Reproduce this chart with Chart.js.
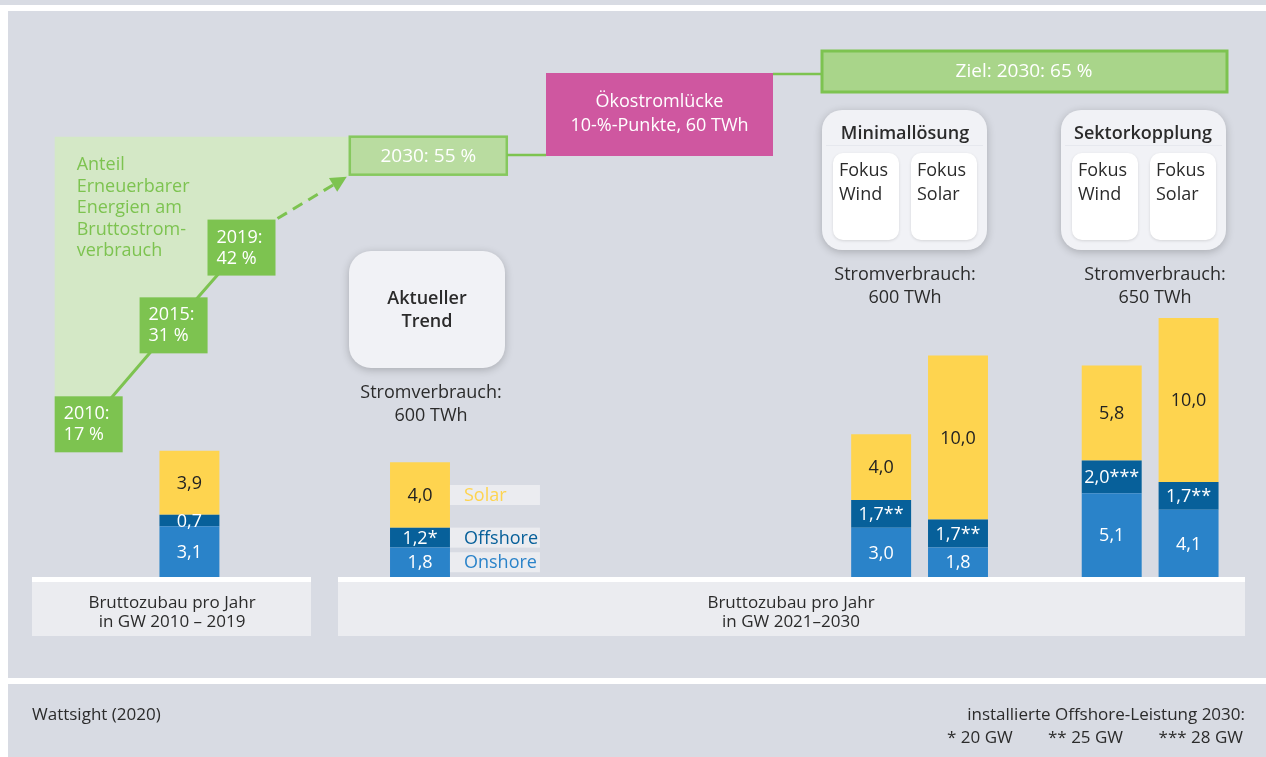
<!DOCTYPE html>
<html lang="de">
<head>
<meta charset="utf-8">
<title>Bruttozubau pro Jahr</title>
<script src="https://cdn.jsdelivr.net/npm/chart.js@4.4.1/dist/chart.umd.min.js"></script>
<style>
  html, body { margin: 0; padding: 0; background: #d8dbe3; }
  #wrap { width: 1266px; height: 757px; position: relative; }
</style>
</head>
<body>
<div id="wrap"><canvas id="chart"></canvas></div>
<script>
// bars: gross additions per year in GW (empty slots are spacing between groups)
const categories = ["2010–2019", "", "", "Aktueller Trend", "", "", "", "", "",
  "Minimallösung Wind", "Minimallösung Solar", "", "Sektorkopplung Wind", "Sektorkopplung Solar"];
const onshore  = [3.1, null, null, 1.8, null, null, null, null, null, 3.0, 1.8, null, 5.1, 4.1];
const offshore = [0.7, null, null, 1.2, null, null, null, null, null, 1.7, 1.7, null, 2.0, 1.7];
const solar    = [3.9, null, null, 4.0, null, null, null, null, null, 4.0, 10.0, null, 5.8, 10.0];
const offshoreMarks = ["", "", "", "*", "", "", "", "", "", "**", "**", "", "***", "**"];
const seriesNames = ["Onshore", "Offshore", "Solar"];

// share of renewables in gross electricity consumption (%)
const shareYears = [2010, 2015, 2019, 2030];
const shareValues = [17, 31, 42, 55];
const targetShare = 65;
const gapText = ["Ökostromlücke", "10-%-Punkte, 60 TWh"];

const scenarioNames = ["Aktueller Trend", "Minimallösung", "Sektorkopplung"];
const consumptionTWh = [600, 600, 650];
const offshoreNotes = ["* 20 GW", "** 25 GW", "*** 28 GW"];

const FONT = '"Open Sans", "Noto Sans", sans-serif';
const BG = "#d8dbe3";
const GREEN = "#7dc350";
const LIGHTGREEN = "#d4e8c6";
const ONSHORE = "#2a83c9";
const OFFSHORE = "#07609a";
const SOLAR = "#fed44f";
const TEXT = "#2b2b2b";

const fmt = v => v.toFixed(1).replace(".", ",");

function rr(ctx, x, y, w, h, r) {
  ctx.beginPath();
  ctx.moveTo(x + r, y);
  ctx.arcTo(x + w, y, x + w, y + h, r);
  ctx.arcTo(x + w, y + h, x, y + h, r);
  ctx.arcTo(x, y + h, x, y, r);
  ctx.arcTo(x, y, x + w, y, r);
  ctx.closePath();
}

function txt(ctx, s, x, y, opt) {
  opt = opt || {};
  ctx.font = (opt.weight || "400") + " " + (opt.size || 18) + "px " + FONT;
  ctx.fillStyle = opt.color || TEXT;
  ctx.textAlign = opt.align || "center";
  ctx.textBaseline = "middle";
  ctx.fillText(s, x, y);
}

function card(ctx, x, y, w, h, r) {
  ctx.save();
  ctx.shadowColor = "rgba(0,0,0,0.22)";
  ctx.shadowBlur = 8;
  ctx.shadowOffsetY = 2;
  rr(ctx, x, y, w, h, r);
  ctx.fillStyle = "#f1f2f6";
  ctx.fill();
  ctx.restore();
}

function innerCard(ctx, x, y, w, h, lines) {
  ctx.save();
  ctx.shadowColor = "rgba(0,0,0,0.12)";
  ctx.shadowBlur = 3;
  ctx.shadowOffsetY = 1;
  rr(ctx, x, y, w, h, 10);
  ctx.fillStyle = "#ffffff";
  ctx.fill();
  ctx.restore();
  lines.forEach((l, i) => txt(ctx, l, x + 6, y + 18 + i * 24, { align: "left" }));
}

// share boxes sit on the share line points
function shareBoxes(chart) {
  const xs = chart.scales.xs, ys = chart.scales.ys;
  return shareYears.map((yr, i) => {
    const cx = xs.getPixelForValue(yr), cy = ys.getPixelForValue(shareValues[i]);
    const last = i === shareYears.length - 1;
    const w = last ? 157 : 68, h = last ? 38 : 56;
    return { cx, cy, x: cx - w / 2, y: cy - h / 2, w, h };
  });
}

const infographic = {
  id: "infographic",
  beforeDatasetsDraw(chart) {
    const ctx = chart.ctx;
    ctx.save();
    ctx.fillStyle = BG;
    ctx.fillRect(0, 0, 1266, 757);
    ctx.fillStyle = "#ffffff";
    ctx.fillRect(0, 5, 1266, 6);
    ctx.fillRect(0, 5, 8, 752);
    ctx.fillRect(0, 678, 1266, 6);

    // category boxes under the bars
    [[32, 279], [338, 907]].forEach(([x, w]) => {
      ctx.fillStyle = "#ffffff";
      ctx.fillRect(x, 577, w, 5);
      ctx.fillStyle = "#ebecf0";
      ctx.fillRect(x, 582, w, 54);
    });
    txt(ctx, "Bruttozubau pro Jahr", 172, 603, { size: 17 });
    txt(ctx, "in GW 2010 – 2019", 172, 622, { size: 17 });
    txt(ctx, "Bruttozubau pro Jahr", 791, 603, { size: 17 });
    txt(ctx, "in GW 2021–2030", 791, 622, { size: 17 });

    // light green area above the share line
    const b = shareBoxes(chart);
    const b0 = b[0], b2 = b[2], b3 = b[3];
    ctx.beginPath();
    ctx.moveTo(b0.x, b3.y);
    ctx.lineTo(b3.x, b3.y);
    ctx.lineTo(b3.x, b3.y + b3.h);
    ctx.lineTo(b2.x + b2.w, b2.y);
    ctx.lineTo(b2.cx, b2.cy);
    ctx.lineTo(b[1].cx, b[1].cy);
    ctx.lineTo(b0.cx, b0.cy);
    ctx.lineTo(b0.x, b0.cy);
    ctx.closePath();
    ctx.fillStyle = LIGHTGREEN;
    ctx.fill();
    ["Anteil", "Erneuerbarer", "Energien am", "Bruttostrom-", "verbrauch"].forEach((l, i) =>
      txt(ctx, l, b0.x + 22, 165 + i * 21.5, { align: "left", color: GREEN }));
    ctx.restore();
  },
  afterDatasetsDraw(chart) {
    const ctx = chart.ctx;
    ctx.save();
    const b = shareBoxes(chart);

    // dashed arrow towards the 2030 target
    const s = b[2], t = b[3];
    const x1 = s.x + s.w + 2, y1 = s.y - 1, x2 = t.x - 3, y2 = t.y + t.h + 2;
    const ang = Math.atan2(y2 - y1, x2 - x1), len = Math.hypot(x2 - x1, y2 - y1);
    ctx.strokeStyle = GREEN;
    ctx.lineWidth = 3;
    ctx.setLineDash([11, 7]);
    ctx.beginPath();
    ctx.moveTo(x1, y1);
    ctx.lineTo(x1 + Math.cos(ang) * (len - 12), y1 + Math.sin(ang) * (len - 12));
    ctx.stroke();
    ctx.setLineDash([]);
    ctx.beginPath();
    ctx.moveTo(x2, y2);
    ctx.lineTo(x2 - 16 * Math.cos(ang) + 8 * Math.sin(ang), y2 - 16 * Math.sin(ang) - 8 * Math.cos(ang));
    ctx.lineTo(x2 - 16 * Math.cos(ang) - 8 * Math.sin(ang), y2 - 16 * Math.sin(ang) + 8 * Math.cos(ang));
    ctx.closePath();
    ctx.fillStyle = GREEN;
    ctx.fill();

    b.slice(0, 3).forEach((bx, i) => {
      ctx.fillStyle = GREEN;
      ctx.fillRect(bx.x, bx.y, bx.w, bx.h);
      txt(ctx, shareYears[i] + ":", bx.x + 9, bx.cy - 10, { color: "#fff", align: "left" });
      txt(ctx, shareValues[i] + " %", bx.x + 9, bx.cy + 11, { color: "#fff", align: "left" });
    });

    // 2030 box, connectors, gap and target
    ctx.fillStyle = "#b9dca0";
    ctx.fillRect(t.x, t.y, t.w, t.h);
    ctx.strokeStyle = "#86c85e";
    ctx.lineWidth = 2.5;
    ctx.strokeRect(t.x, t.y, t.w, t.h);
    txt(ctx, shareYears[3] + ": " + shareValues[3] + " %", t.cx, t.cy + 1, { color: "#fff", size: 19 });

    ctx.strokeStyle = GREEN;
    ctx.lineWidth = 2.5;
    ctx.beginPath();
    ctx.moveTo(t.x + t.w, 155); ctx.lineTo(546, 155);
    ctx.moveTo(773, 74); ctx.lineTo(823, 74);
    ctx.stroke();

    ctx.fillStyle = "#cf57a0";
    ctx.fillRect(546, 73, 227, 83);
    txt(ctx, gapText[0], 659.5, 102, { color: "#fff", size: 18 });
    txt(ctx, gapText[1], 659.5, 126, { color: "#fff", size: 18 });

    ctx.fillStyle = "#a9d58a";
    ctx.fillRect(822, 51, 405, 41);
    ctx.strokeStyle = GREEN;
    ctx.lineWidth = 3;
    ctx.strokeRect(822, 51, 405, 41);
    txt(ctx, "Ziel: " + shareYears[3] + ": " + targetShare + " %", 1024, 72, { color: "#fff", size: 19 });

    // scenario cards
    card(ctx, 349, 251, 156, 117, 22);
    const trend = scenarioNames[0].split(" ");
    txt(ctx, trend[0], 427, 299, { weight: "600", size: 18 });
    txt(ctx, trend[1], 427, 322, { weight: "600", size: 18 });
    [[822, scenarioNames[1], 905], [1061, scenarioNames[2], 1143]].forEach(([x, name, cx]) => {
      card(ctx, x, 110, 165, 140, 20);
      ctx.fillStyle = "#e6e8ee";
      ctx.fillRect(x + 4, 145, 157, 1);
      txt(ctx, name, cx, 134, { weight: "600", size: 18 });
      innerCard(ctx, x + 11, 153, 66, 87, ["Fokus", "Wind"]);
      innerCard(ctx, x + 89, 153, 66, 87, ["Fokus", "Solar"]);
    });
    [[431, 393], [905, 275], [1155, 275]].forEach(([cx, cy], i) => {
      txt(ctx, "Stromverbrauch:", cx, cy);
      txt(ctx, consumptionTWh[i] + " TWh", cx, cy + 23);
    });

    // values inside the bars
    [onshore, offshore, solar].forEach((series, di) => {
      const meta = chart.getDatasetMeta(di);
      series.forEach((v, j) => {
        if (v === null) return;
        const el = meta.data[j];
        const label = fmt(v) + (di === 1 ? offshoreMarks[j] : "");
        txt(ctx, label, el.x, (el.y + el.base) / 2 + 1, { color: di === 2 ? "#222" : "#fff" });
      });
    });

    // legend labels beside the current trend bar
    const legendColors = [ONSHORE, OFFSHORE, SOLAR];
    [0, 1, 2].forEach(di => {
      const el = chart.getDatasetMeta(di).data[3];
      const cy = (el.y + el.base) / 2;
      const lx = el.x + el.width / 2;
      ctx.fillStyle = "#ebecf0";
      ctx.fillRect(lx, cy - 10, 90, 20);
      txt(ctx, seriesNames[di], lx + 14, cy + 1, { align: "left", color: legendColors[di] });
    });

    // footer
    txt(ctx, "Wattsight (2020)", 32, 715, { align: "left", size: 17 });
    txt(ctx, "installierte Offshore-Leistung 2030:", 1245, 715, { align: "right", size: 17 });
    txt(ctx, offshoreNotes[0], 947, 738, { align: "left", size: 17 });
    txt(ctx, offshoreNotes[1], 1048, 738, { align: "left", size: 17 });
    txt(ctx, offshoreNotes[2], 1243, 738, { align: "right", size: 17 });
    ctx.restore();
  }
};

// grouped: false keeps each stacked bar centred on its category
const barStyle = { grouped: false, barPercentage: 0.78, categoryPercentage: 1, borderWidth: 0, xAxisID: "x", yAxisID: "y" };

new Chart(document.getElementById("chart"), {
  type: "bar",
  data: {
    labels: categories,
    datasets: [
      { label: seriesNames[0], data: onshore, backgroundColor: ONSHORE, ...barStyle },
      { label: seriesNames[1], data: offshore, backgroundColor: OFFSHORE, ...barStyle },
      { label: seriesNames[2], data: solar, backgroundColor: SOLAR, ...barStyle },
      {
        type: "line",
        label: "Anteil Erneuerbarer",
        data: shareYears.map((yr, i) => ({ x: yr, y: shareValues[i] })),
        xAxisID: "xs",
        yAxisID: "ys",
        borderColor: GREEN,
        borderWidth: 3,
        pointRadius: 0,
        clip: false,
        segment: {
          borderColor: c => (c.p1DataIndex === shareYears.length - 1 ? "rgba(0,0,0,0)" : GREEN)
        }
      }
    ]
  },
  options: {
    responsive: true,
    maintainAspectRatio: false,
    animation: false,
    layout: { padding: { left: 151, right: 39, top: 85, bottom: 180 } },
    plugins: { legend: { display: false }, tooltip: { enabled: false } },
    scales: {
      x: { display: false, stacked: true, offset: true },
      y: { display: false, stacked: true, min: 0, max: 30 },
      xs: { type: "linear", display: false, offset: false, min: 2013.67, max: 2077.04 },
      ys: { type: "linear", display: false, offset: false, min: -4.6, max: 65 }
    }
  },
  plugins: [infographic]
});
</script>
</body>
</html>
